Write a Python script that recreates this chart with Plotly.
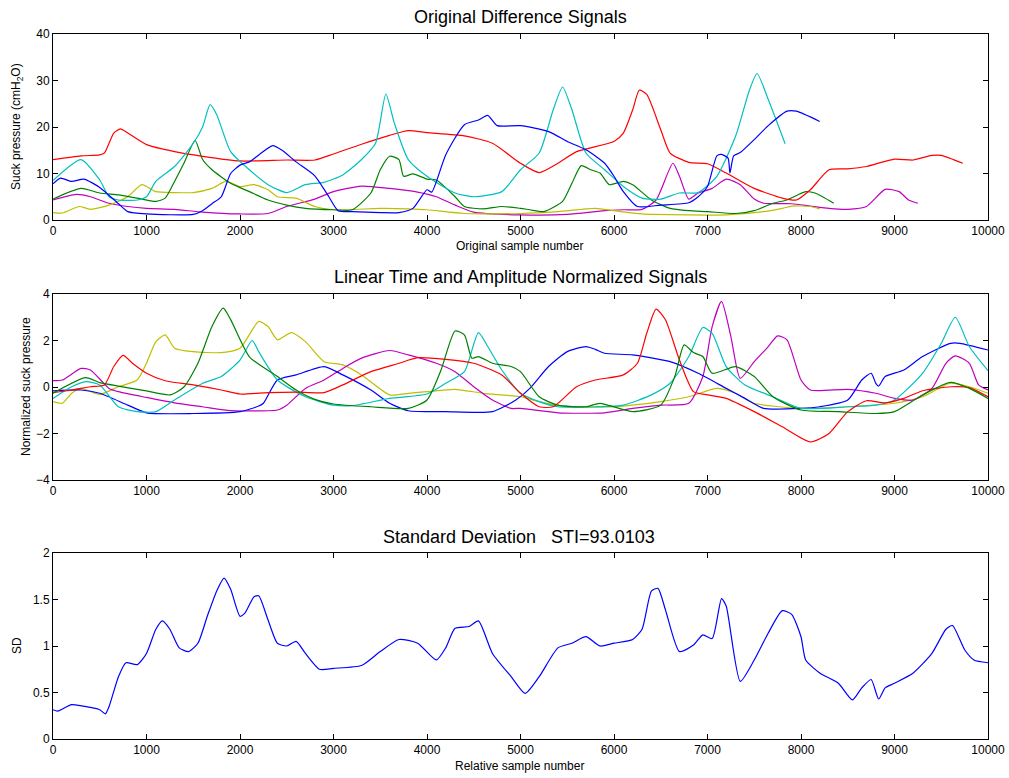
import plotly.graph_objects as go

# ---------------- Panel 1: Original Difference Signals ----------------
p1_red_x = [0, 300, 500, 550, 650, 720, 800, 1000, 1300, 1600, 2000, 2500, 2800, 3000, 3300, 3600, 3800, 4000, 4400, 4700, 5000, 5200, 5400, 5600, 6000, 6100, 6200, 6270, 6350, 6500, 6600, 6800, 7000, 7200, 7500, 7800, 7950, 8100, 8300, 8500, 8700, 9000, 9200, 9400, 9500, 9730]
p1_red_y = [13, 13.8, 14, 14.4, 18.7, 19.6, 18.7, 16.2, 14.7, 13.7, 12.7, 12.9, 12.9, 14.2, 16.3, 18.2, 19.2, 18.8, 18.1, 16.5, 12.2, 10.2, 12.2, 14.7, 16.9, 18.7, 23.7, 27.9, 27, 19.4, 14.4, 12.4, 12.1, 10.1, 6.8, 4.7, 4.3, 6.5, 10.8, 11, 11.5, 13.1, 12.9, 13.9, 13.9, 12.2]

p1_cyan_x = [0, 300, 500, 600, 700, 900, 1000, 1100, 1300, 1500, 1600, 1680, 1750, 1900, 2100, 2300, 2500, 2700, 2900, 3100, 3300, 3450, 3560, 3650, 3800, 4000, 4300, 4500, 4800, 5000, 5200, 5350, 5450, 5550, 5700, 5900, 6100, 6300, 6500, 6700, 6900, 7100, 7300, 7450, 7530, 7650, 7830]
p1_cyan_y = [8.5, 13, 8.6, 5, 4.3, 4.3, 5, 8.3, 11.5, 16.5, 20, 24.8, 22.7, 14.7, 10.8, 7.6, 5.9, 7.6, 8.1, 9.7, 13, 16.5, 27.1, 20.9, 13, 9.4, 5.8, 5, 6.1, 10.8, 14.4, 23.7, 28.6, 23.7, 14.4, 10.8, 7.2, 4.7, 4.5, 5.8, 5.9, 9.4, 18, 28, 31.5, 25.9, 16.4]

p1_blue_x = [0, 80, 200, 330, 500, 700, 800, 1000, 1500, 1600, 1700, 1800, 1900, 2000, 2100, 2200, 2350, 2450, 2600, 2800, 2950, 3050, 3200, 3500, 3700, 3850, 4000, 4050, 4200, 4400, 4550, 4650, 4750, 5000, 5300, 5500, 5700, 5900, 6000, 6100, 6250, 6500, 6800, 6900, 7000, 7100, 7150, 7220, 7240, 7280, 7350, 7500, 7650, 7850, 7950, 8200]
p1_blue_y = [7.8, 9, 8.3, 8.8, 7, 3.5, 1.8, 1.3, 1.2, 2, 3.5, 5, 10, 11.8, 12.5, 14, 16, 15, 12.5, 9.5, 5, 2, 1.8, 1.6, 1.6, 2.5, 6.5, 6.0, 14, 20.5, 21.5, 22.5, 20.3, 20.3, 19, 16.9, 15.1, 12.2, 9.4, 6.1, 2.9, 3.2, 3.7, 5, 7.2, 13.8, 14.1, 13.3, 10.1, 13.8, 14.5, 17.3, 20.3, 23.4, 23.4, 21.2]

p1_green_x = [0, 300, 500, 700, 900, 1100, 1200, 1300, 1400, 1520, 1600, 1700, 1900, 2100, 2300, 2500, 2700, 3000, 3200, 3400, 3500, 3600, 3700, 3750, 3850, 4000, 4100, 4300, 4400, 4600, 4800, 5000, 5100, 5250, 5450, 5550, 5650, 5750, 5850, 5950, 6100, 6200, 6400, 6600, 6800, 7000, 7300, 7500, 7700, 7850, 8050, 8150, 8350]
p1_green_y = [4.5, 6.8, 5.8, 5.4, 4.7, 4, 4.7, 8.3, 12.2, 17.1, 13, 10.8, 7.9, 6.1, 4.3, 3.2, 2.5, 2.2, 2.2, 5.8, 10.8, 13.7, 13, 9.4, 9.9, 8.8, 8.6, 5, 2.9, 2.4, 2.9, 2.5, 2.2, 1.8, 4, 7.9, 11.7, 10.8, 10.1, 7.6, 8.3, 7.6, 4.3, 2.5, 2, 1.8, 1.4, 2, 3.6, 4.3, 6.1, 5.8, 3.6]

p1_yellow_x = [0, 100, 280, 400, 600, 800, 950, 1100, 1300, 1500, 1700, 1850, 2000, 2150, 2300, 2400, 2600, 2800, 3000, 3500, 3800, 4000, 4400, 5000, 5400, 5800, 6000, 6300, 6800, 7200, 7600, 7800, 7900, 8100, 8200]
p1_yellow_y = [1.6, 1.5, 2.9, 2.3, 3.2, 5, 7.6, 6.1, 5.9, 5.9, 6.8, 8.3, 7.2, 7.6, 6.5, 5, 4.7, 2.9, 2.2, 2.5, 2.4, 2.2, 1.4, 1.4, 1.8, 2.5, 2, 1.3, 1.1, 1.1, 1.8, 2.5, 3, 2.9, 2.4]

p1_magenta_x = [0, 250, 400, 600, 800, 1000, 1300, 1600, 2000, 2300, 2500, 2800, 3000, 3300, 3600, 3900, 4100, 4300, 4500, 5000, 5500, 5900, 6100, 6300, 6450, 6630, 6700, 6800, 6900, 7050, 7200, 7350, 7500, 7600, 7900, 8100, 8300, 8500, 8700, 8900, 9050, 9150, 9250]
p1_magenta_y = [4.3, 5.5, 5, 3.6, 2.9, 2.5, 2.3, 1.7, 1.3, 1.4, 2.9, 4.5, 6.1, 7.3, 6.8, 6, 5, 3.2, 1.7, 1.1, 1.2, 2, 2.2, 2.3, 4.3, 12.2, 9.4, 4.5, 5.8, 6.8, 8.8, 7.6, 4.5, 3.6, 3.5, 3, 2.5, 2.3, 2.9, 6.6, 6.1, 4.3, 3.6]

# ---------------- Panel 2: Normalized Signals ----------------
p2_green_x = [0, 350, 500, 700, 1000, 1250, 1400, 1550, 1700, 1820, 1900, 2100, 2400, 2600, 2800, 3000, 3400, 3800, 4000, 4150, 4300, 4400, 4480, 4550, 4700, 4900, 5000, 5200, 5400, 5700, 5850, 6200, 6500, 6650, 6750, 6850, 6950, 7050, 7300, 7500, 7700, 8000, 8400, 8800, 9000, 9300, 9600, 9800, 10000]
p2_green_y = [-0.27, 0.4, 0.19, 0.04, -0.17, -0.34, 0, 1.02, 2.6, 3.39, 2.9, 1.3, 0.45, -0.13, -0.53, -0.73, -0.85, -0.92, -0.56, 0.73, 2.41, 2.24, 1.24, 1.31, 1.02, 0.88, 0.66, -0.42, -0.78, -0.85, -0.7, -1.06, -0.78, 0.45, 1.81, 1.48, 1.31, 0.59, 0.88, 0.45, -0.42, -0.99, -1.06, -1.14, -1.06, -0.34, 0.2, -0.06, -0.49]

p2_red_x = [0, 200, 400, 550, 650, 750, 850, 1000, 1200, 1500, 1800, 2000, 2300, 2600, 2900, 3100, 3400, 3700, 3900, 4200, 4500, 4800, 5000, 5200, 5350, 5600, 5800, 6100, 6250, 6350, 6450, 6550, 6700, 6850, 7000, 7200, 7500, 7800, 8100, 8300, 8500, 8700, 8900, 9100, 9300, 9600, 9800, 10000]
p2_red_y = [-0.24, -0.13, 0.01, 0.09, 0.88, 1.36, 1.02, 0.59, 0.27, 0.09, -0.13, -0.3, -0.24, -0.22, -0.24, 0.09, 0.66, 1.02, 1.26, 1.19, 1.02, 0.52, -0.27, -0.85, -0.85, 0.01, 0.3, 0.52, 1.02, 2.31, 3.35, 2.89, 1.16, -0.2, -0.34, -0.49, -1.06, -1.71, -2.36, -2.0, -1.06, -0.59, -0.68, -0.49, -0.16, 0.01, -0.03, -0.42]

p2_cyan_x = [0, 200, 350, 500, 700, 900, 1100, 1300, 1600, 1800, 2000, 2130, 2200, 2400, 2700, 3000, 3200, 3600, 4000, 4200, 4400, 4550, 4650, 4800, 5000, 5200, 5400, 5800, 6100, 6400, 6600, 6800, 6950, 7050, 7200, 7400, 7700, 8000, 8500, 8800, 9000, 9300, 9500, 9650, 9800, 10000]
p2_cyan_y = [-0.49, 0.01, 0.23, 0.09, -0.85, -1.06, -1.06, -0.56, 0.16, 0.45, 1.16, 2.0, 1.52, 0.3, -0.42, -0.78, -0.8, -0.49, -0.3, 0.16, 0.66, 2.34, 1.74, 0.73, -0.27, -0.63, -0.85, -0.85, -0.78, -0.34, 0.16, 1.31, 2.56, 2.31, 0.88, 0.09, -0.42, -0.92, -0.85, -0.78, -0.56, 0.59, 1.88, 3.0, 1.74, 0.7]

p2_blue_x = [0, 300, 500, 800, 1000, 1500, 2000, 2200, 2250, 2400, 2600, 2900, 3100, 3400, 3600, 3800, 4200, 4700, 4950, 5100, 5300, 5500, 5700, 5800, 5900, 6200, 6600, 6900, 7200, 7400, 7600, 8000, 8200, 8500, 8650, 8750, 8800, 8830, 8900, 9100, 9300, 9600, 9700, 10000]
p2_blue_y = [-0.17, -0.13, -0.27, -0.78, -1.11, -1.14, -1.06, -0.82, -0.7, 0.3, 0.52, 0.88, 0.52, -0.13, -0.7, -1.02, -1.06, -1.06, -0.56, -0.06, 0.88, 1.52, 1.74, 1.62, 1.45, 1.38, 1.09, 0.59, -0.06, -0.49, -0.92, -0.92, -0.85, -0.56, 0.3, 0.59, 0.16, 0.04, 0.45, 0.73, 1.31, 1.88, 1.88, 1.59]

p2_yellow_x = [0, 100, 200, 300, 500, 700, 900, 1000, 1100, 1200, 1300, 1500, 1800, 2000, 2200, 2300, 2400, 2550, 2700, 2900, 3100, 3300, 3600, 3800, 4000, 4300, 4600, 5000, 5200, 5500, 6000, 6500, 6800, 7100, 7300, 7500, 8000, 8500, 9000, 9300, 9600, 9800, 10000]
p2_yellow_y = [-0.63, -0.7, -0.27, -0.06, -0.32, 0.01, 0.3, 1.02, 1.95, 2.24, 1.67, 1.52, 1.48, 1.67, 2.82, 2.6, 2.03, 2.34, 1.95, 1.09, 0.95, 0.52, -0.34, -0.27, -0.2, -0.1, -0.27, -0.42, -0.63, -0.85, -0.85, -0.63, -0.42, -0.06, -0.27, -0.7, -0.92, -0.85, -0.7, -0.42, 0.16, 0.01, -0.27]

p2_magenta_x = [0, 100, 300, 400, 600, 700, 1000, 1300, 1600, 1900, 2100, 2400, 2500, 2700, 2900, 3100, 3300, 3600, 3800, 4100, 4300, 4500, 4700, 4900, 5000, 5400, 5900, 6200, 6500, 6800, 6950, 7050, 7150, 7250, 7350, 7500, 7650, 7750, 7850, 8000, 8100, 8500, 8800, 9000, 9200, 9400, 9550, 9650, 9800, 9900, 10000]
p2_magenta_y = [0.27, 0.3, 0.8, 0.73, -0.06, -0.2, -0.45, -0.68, -0.85, -1.02, -1.03, -0.99, -0.78, -0.06, 0.3, 0.8, 1.24, 1.57, 1.38, 1.02, 0.66, 0.01, -0.56, -0.92, -0.92, -1.11, -1.11, -0.92, -0.78, -0.7, 0.45, 2.6, 3.68, 2.17, 0.37, 1.09, 1.74, 2.2, 2.03, 0.3, -0.13, -0.1, -0.27, -0.49, -0.56, -0.06, 1.02, 1.34, 1.02, 0.09, -0.13]

# ---------------- Panel 3: Standard Deviation ----------------
sd_x = [0, 50, 200, 400, 500, 560, 600, 700, 780, 900, 1000, 1100, 1170, 1250, 1350, 1450, 1550, 1650, 1750, 1830, 1900, 2000, 2050, 2150, 2200, 2300, 2400, 2500, 2600, 2700, 2850, 3000, 3300, 3500, 3700, 3900, 4100, 4200, 4300, 4450, 4550, 4700, 4900, 5050, 5200, 5400, 5550, 5700, 5850, 6000, 6200, 6300, 6400, 6470, 6550, 6700, 6850, 6950, 7050, 7150, 7200, 7350, 7500, 7650, 7800, 7900, 8000, 8050, 8200, 8400, 8550, 8650, 8750, 8830, 8900, 9000, 9200, 9400, 9550, 9620, 9750, 9850, 10000]
sd_y = [0.315, 0.3, 0.37, 0.34, 0.315, 0.27, 0.35, 0.67, 0.82, 0.8, 0.92, 1.18, 1.27, 1.18, 0.98, 0.94, 1.03, 1.32, 1.59, 1.73, 1.61, 1.32, 1.35, 1.53, 1.54, 1.28, 1.03, 1.0, 1.05, 0.92, 0.75, 0.76, 0.79, 0.94, 1.07, 1.03, 0.85, 0.98, 1.19, 1.21, 1.27, 0.92, 0.67, 0.49, 0.67, 0.98, 1.03, 1.1, 1.0, 1.03, 1.07, 1.18, 1.59, 1.62, 1.39, 0.94, 1.01, 1.12, 1.08, 1.51, 1.43, 0.62, 0.85, 1.14, 1.38, 1.34, 1.1, 0.85, 0.71, 0.6, 0.42, 0.55, 0.64, 0.43, 0.55, 0.6, 0.71, 0.92, 1.18, 1.22, 0.96, 0.85, 0.82]

x_ticks = [0, 1000, 2000, 3000, 4000, 5000, 6000, 7000, 8000, 9000, 10000]
x_tick_labels = ["0", "1000", "2000", "3000", "4000", "5000", "6000", "7000", "8000", "9000", "10000"]

BLUE = "#0000FF"
GREEN = "#008000"
RED = "#FF0000"
CYAN = "#00BFBF"
MAGENTA = "#BF00BF"
YELLOW = "#BFBF00"

fig = go.Figure()

def add(x, y, color, axis):
    fig.add_trace(go.Scatter(x=x, y=y, mode="lines", line=dict(color=color, width=1.2, shape="spline", smoothing=0.6),
                             xaxis="x" + axis, yaxis="y" + axis, showlegend=False, hoverinfo="skip"))

add(p1_magenta_x, p1_magenta_y, MAGENTA, "")
add(p1_yellow_x, p1_yellow_y, YELLOW, "")
add(p1_green_x, p1_green_y, GREEN, "")
add(p1_red_x, p1_red_y, RED, "")
add(p1_cyan_x, p1_cyan_y, CYAN, "")
add(p1_blue_x, p1_blue_y, BLUE, "")

add(p2_yellow_x, p2_yellow_y, YELLOW, "2")
add(p2_magenta_x, p2_magenta_y, MAGENTA, "2")
add(p2_blue_x, p2_blue_y, BLUE, "2")
add(p2_cyan_x, p2_cyan_y, CYAN, "2")
add(p2_red_x, p2_red_y, RED, "2")
add(p2_green_x, p2_green_y, GREEN, "2")

add(sd_x, sd_y, BLUE, "3")

W, H = 1009, 778
xd = [53 / W, 988 / W]

def ydom(top, bottom):
    return [(H - bottom) / H, (H - top) / H]

FONT = "Liberation Sans, Arial, sans-serif"
tickfont = dict(family=FONT, size=12, color="black")
common_x = dict(range=[0, 10000], tickvals=x_ticks, ticktext=x_tick_labels, automargin=False,
                ticks="inside", ticklen=5, tickcolor="black", showline=True, linecolor="black", linewidth=1,
                mirror="allticks", showgrid=False, zeroline=False, tickfont=tickfont, domain=xd)
common_y = dict(ticks="inside", ticklen=5, tickcolor="black", showline=True, linecolor="black", linewidth=1,
                automargin=False, mirror="allticks", showgrid=False, zeroline=False, tickfont=tickfont)

fig.update_layout(
    template="none",
    width=W, height=H, margin=dict(l=0, r=0, t=0, b=0, autoexpand=False),
    paper_bgcolor="white", plot_bgcolor="white",
    xaxis=dict(**common_x, anchor="y"),
    yaxis=dict(**common_y, range=[0, 40], tickvals=[0, 10, 20, 30, 40], domain=ydom(34, 220), anchor="x"),
    xaxis2=dict(**common_x, anchor="y2"),
    yaxis2=dict(**common_y, range=[-4, 4], tickvals=[-4, -2, 0, 2, 4], domain=ydom(294, 480), anchor="x2"),
    xaxis3=dict(**common_x, anchor="y3"),
    yaxis3=dict(**common_y, range=[0, 2], tickvals=[0, 0.5, 1, 1.5, 2], ticktext=["0", "0.5", "1", "1.5", "2"],
                domain=ydom(553, 739), anchor="x3"),
)

tf = dict(family=FONT, size=18, color="black")
lf = dict(family=FONT, size=12, color="black")

def ann(text, x_px, y_px, font, angle=0):
    fig.add_annotation(text=text, x=x_px / W, y=(H - y_px) / H, xref="paper", yref="paper",
                       showarrow=False, font=font, textangle=angle, xanchor="center", yanchor="middle")

ann("Original Difference Signals", 520.5, 17, tf)
ann("Linear Time and Amplitude Normalized Signals", 520.5, 277, tf)
ann("Standard Deviation   STI=93.0103", 519, 537, tf)
ann("Original sample number", 519, 246, lf)
ann("Relative sample number", 519, 766, lf)
ann("Suck pressure (cmH<sub>2</sub>O)", 17, 127, lf, -90)
ann("Normalized suck pressure", 26, 387, lf, -90)
ann("SD", 17, 646, lf, -90)

fig.write_html("out.html")
